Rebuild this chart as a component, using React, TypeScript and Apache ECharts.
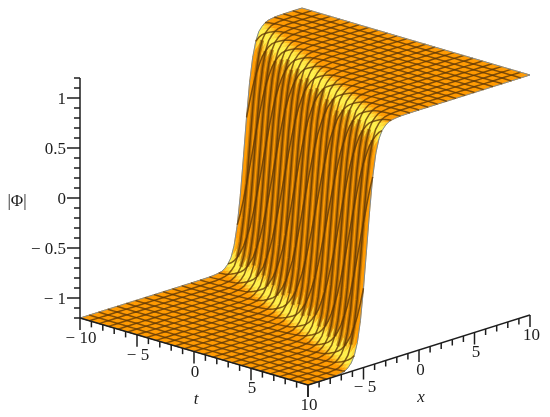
import React, { useEffect, useRef } from "react";
import * as echarts from "echarts";

// Grid lines of the surface
const tGrid = [-10, -9.17, -8.33, -7.5, -6.67, -5.83, -5, -4.17, -3.33, -2.5, -1.67, -0.83, 0, 0.83, 1.67, 2.5, 3.33, 4.17, 5, 5.83, 6.67, 7.5, 8.33, 9.17, 10];
const xGrid = [-10, -9.17, -8.33, -7.5, -6.67, -5.83, -5, -4.17, -3.33, -2.5, -1.67, -0.83, 0, 0.83, 1.67, 2.5, 3.33, 4.17, 5, 5.83, 6.67, 7.5, 8.33, 9.17, 10];

// Where the step sits in x for a given t
const frontT = [-10, -5, 0, 5, 10];
const frontX = [4.8, 2.4, 0, -2.3, -4.7];

// Height of the step against distance from the front
const stepOffset = [-20, -4, -3, -2.4, -2, -1.75, -1.5, -1.3, -1.15, -1, -0.85, -0.7, -0.55, -0.4, -0.2, 0, 0.2, 0.4, 0.55, 0.7, 0.85, 1, 1.15, 1.3, 1.5, 1.75, 2, 2.4, 3, 4, 20];
const stepHeight = [-1.2, -1.2, -1.198, -1.19, -1.18, -1.16, -1.13, -1.1, -1.06, -1, -0.93, -0.82, -0.7, -0.535, -0.28, 0, 0.28, 0.535, 0.7, 0.82, 0.93, 1, 1.06, 1.1, 1.13, 1.16, 1.18, 1.19, 1.198, 1.2, 1.2];

// Axis ticks
const zTicks = [-1.2, -1.1, -1, -0.9, -0.8, -0.7, -0.6, -0.5, -0.4, -0.3, -0.2, -0.1, 0, 0.1, 0.2, 0.3, 0.4, 0.5, 0.6, 0.7, 0.8, 0.9, 1, 1.1, 1.2];
const zLabels: [number, string][] = [[1, "1"], [0.5, "0.5"], [0, "0"], [-0.5, "− 0.5"], [-1, "− 1"]];
const tTicks = [-10, -9, -8, -7, -6, -5, -4, -3, -2, -1, 0, 1, 2, 3, 4, 5, 6, 7, 8, 9, 10];
const tLabels: [number, string][] = [[-10, "− 10"], [-5, "− 5"], [0, "0"], [5, "5"], [10, "10"]];
const xTicks = [-10, -9, -8, -7, -6, -5, -4, -3, -2, -1, 0, 1, 2, 3, 4, 5, 6, 7, 8, 9, 10];
const xLabels: [number, string][] = [[-5, "− 5"], [0, "0"], [5, "5"], [10, "10"]];

const lookup = (v: number, xs: number[], ys: number[]) => {
  for (let i = 1; i < xs.length; i++) {
    if (v <= xs[i]) {
      const f = (v - xs[i - 1]) / (xs[i] - xs[i - 1]);
      return ys[i - 1] + f * (ys[i] - ys[i - 1]);
    }
  }
  return ys[ys.length - 1];
};
const surfaceZ = (x: number, t: number) => lookup(x - lookup(t, frontT, frontX), stepOffset, stepHeight);

// Oblique view of the box
const project = (x: number, t: number, z: number): [number, number] => [
  80 + (x + 10) * 11.1 + (t + 10) * 11.4,
  198 - (x + 10) * 3.5 + (t + 10) * 3.35 - z * 100,
];

const SUB = 3;
const refine = (g: number[]) => {
  const out: number[] = [];
  for (let i = 0; i < g.length - 1; i++) for (let k = 0; k < SUB; k++) out.push(g[i] + ((g[i + 1] - g[i]) * k) / SUB);
  out.push(g[g.length - 1]);
  return out;
};
const fineT = refine(tGrid);
const fineX = refine(xGrid);

const ORANGE = "#ff9a00";
const YELLOW = "#fff04a";
const shade = (slope: number) => {
  if (slope < 0.05) return ORANGE;
  if (slope < 0.14) return echarts.color.lerp((slope - 0.05) / 0.09, [ORANGE, YELLOW]);
  if (slope < 0.3) return YELLOW;
  if (slope < 0.62) return echarts.color.lerp((slope - 0.3) / 0.32, [YELLOW, ORANGE]);
  return ORANGE;
};

const quads: number[][] = [];
for (let i = fineX.length - 2; i >= 0; i--) for (let j = 0; j < fineT.length - 1; j++) quads.push([i, j]);

type MeshLine = { pts: [number, number, number][]; kind: string };
const meshLines: MeshLine[] = [];
tGrid.forEach((t, n) => {
  const pts = fineX.map((x) => [x, t, surfaceZ(x, t)] as [number, number, number]);
  if (n > 0 && n < tGrid.length - 1) meshLines.push({ pts: pts.filter((p) => Math.abs(p[2]) < 1.08), kind: "ribbon" });
  meshLines.push({ pts, kind: n === 0 || n === tGrid.length - 1 ? "edge" : "mesh" });
});
xGrid.forEach((x, n) => meshLines.push({ pts: fineT.map((t) => [x, t, surfaceZ(x, t)] as [number, number, number]), kind: n === 0 || n === xGrid.length - 1 ? "edge" : "mesh" }));

const lineStyles: Record<string, { stroke: string; lineWidth: number; fill: string }> = {
  ribbon: { fill: "none", stroke: "rgba(150,88,4,0.62)", lineWidth: 4 },
  mesh: { fill: "none", stroke: "rgba(96,56,6,0.8)", lineWidth: 1.5 },
  edge: { fill: "none", stroke: "#7f8a92", lineWidth: 1 },
};

const FONT = '17px "Liberation Serif"';
const ITALIC = 'italic 17px "Liberation Serif"';
const INK = "#1d1d1d";

type Mark = { a: [number, number]; b: [number, number]; label?: string; at?: [number, number]; align?: string };
const marks: Mark[] = [];
marks.push({ a: project(-10, -10, -1.2), b: project(-10, -10, 1.2) });
marks.push({ a: project(-10, -10, -1.2), b: project(-10, 10, -1.2) });
marks.push({ a: project(-10, 10, -1.2), b: project(10, 10, -1.2) });
zTicks.forEach((z) => {
  const p = project(-10, -10, z);
  const lab = zLabels.find((l) => l[0] === z);
  marks.push({ a: p, b: [p[0] - (lab ? 13 : 6), p[1]], label: lab?.[1], at: [66, p[1]], align: "right" });
});
tTicks.forEach((t) => {
  const p = project(-10, t, -1.2);
  const lab = tLabels.find((l) => l[0] === t);
  marks.push({ a: p, b: [p[0], p[1] + (lab ? 12 : 6)], label: lab?.[1], at: [p[0] + 1, p[1] + 19.5], align: "center" });
});
xTicks.forEach((x) => {
  const p = project(x, 10, -1.2);
  const lab = xLabels.find((l) => l[0] === x);
  const major = x % 5 === 0;
  marks.push({ a: p, b: [p[0], p[1] + (major ? 12 : 6)], label: lab?.[1], at: [p[0] + 1.5, p[1] + 19], align: "center" });
});

const axisNames: [string, number, number, string][] = [
  ["|Φ|", 17, 200, FONT],
  ["t", 196, 398, ITALIC],
  ["x", 421, 396, ITALIC],
];

export default function App() {
  const ref = useRef<HTMLDivElement>(null);
  useEffect(() => {
    const chart = echarts.init(ref.current!, undefined, { renderer: "svg" });
    const fillSeries = {
      type: "custom",
      coordinateSystem: "cartesian2d",
      silent: true,
      clip: false,
      data: quads.map((q) => [q[0], q[1]]),
      renderItem: (params: any, api: any) => {
        const [i, j] = quads[params.dataIndex];
        const x0 = fineX[i], x1 = fineX[i + 1], t0 = fineT[j], t1 = fineT[j + 1];
        const z00 = surfaceZ(x0, t0), z10 = surfaceZ(x1, t0), z11 = surfaceZ(x1, t1), z01 = surfaceZ(x0, t1);
        const slope = Math.abs(z10 + z11 - z00 - z01) / 2 / (x1 - x0);
        const fill = shade(slope);
        return {
          type: "polygon",
          shape: { points: [project(x0, t0, z00), project(x1, t0, z10), project(x1, t1, z11), project(x0, t1, z01)].map((p) => api.coord(p)) },
          style: { fill, stroke: fill, lineWidth: 0.7 },
        };
      },
    };
    const meshSeries = {
      type: "custom",
      coordinateSystem: "cartesian2d",
      silent: true,
      clip: false,
      data: meshLines.map((_, n) => [n, 0]),
      renderItem: (params: any, api: any) => {
        const line = meshLines[params.dataIndex];
        return {
          type: "polyline",
          shape: { points: line.pts.map((p) => api.coord(project(p[0], p[1], p[2]))) },
          style: lineStyles[line.kind],
        };
      },
    };
    const axisSeries = {
      type: "custom",
      coordinateSystem: "cartesian2d",
      silent: true,
      clip: false,
      data: marks.map((_, n) => [n, 0]),
      renderItem: (params: any, api: any) => {
        const m = marks[params.dataIndex];
        const a = api.coord(m.a), b = api.coord(m.b);
        const children: any[] = [
          { type: "line", shape: { x1: a[0], y1: a[1], x2: b[0], y2: b[1] }, style: { stroke: INK, lineWidth: 1.5 } },
        ];
        if (m.label) {
          const c = api.coord(m.at);
          children.push({ type: "text", style: { text: m.label, x: c[0], y: c[1], font: FONT, fill: INK, align: m.align, verticalAlign: "middle" } });
        }
        return { type: "group", children };
      },
    };
    const nameSeries = {
      type: "custom",
      coordinateSystem: "cartesian2d",
      silent: true,
      clip: false,
      data: axisNames.map((n) => [n[1], n[2]]),
      renderItem: (params: any, api: any) => {
        const n = axisNames[params.dataIndex];
        const c = api.coord([n[1], n[2]]);
        return { type: "text", style: { text: n[0], x: c[0], y: c[1], font: n[3], fill: INK, align: "center", verticalAlign: "middle" } };
      },
    };
    chart.setOption({
      animation: false,
      backgroundColor: "#ffffff",
      grid: { left: 0, top: 0, width: 550, height: 417 },
      xAxis: { type: "value", min: 0, max: 550, show: false },
      yAxis: { type: "value", min: 0, max: 417, inverse: true, show: false },
      series: [fillSeries, meshSeries, axisSeries, nameSeries],
    });
    return () => chart.dispose();
  }, []);
  return <div ref={ref} style={{ position: "fixed", left: 0, top: 0, width: 550, height: 417, filter: "blur(0.7px)" }} />;
}
